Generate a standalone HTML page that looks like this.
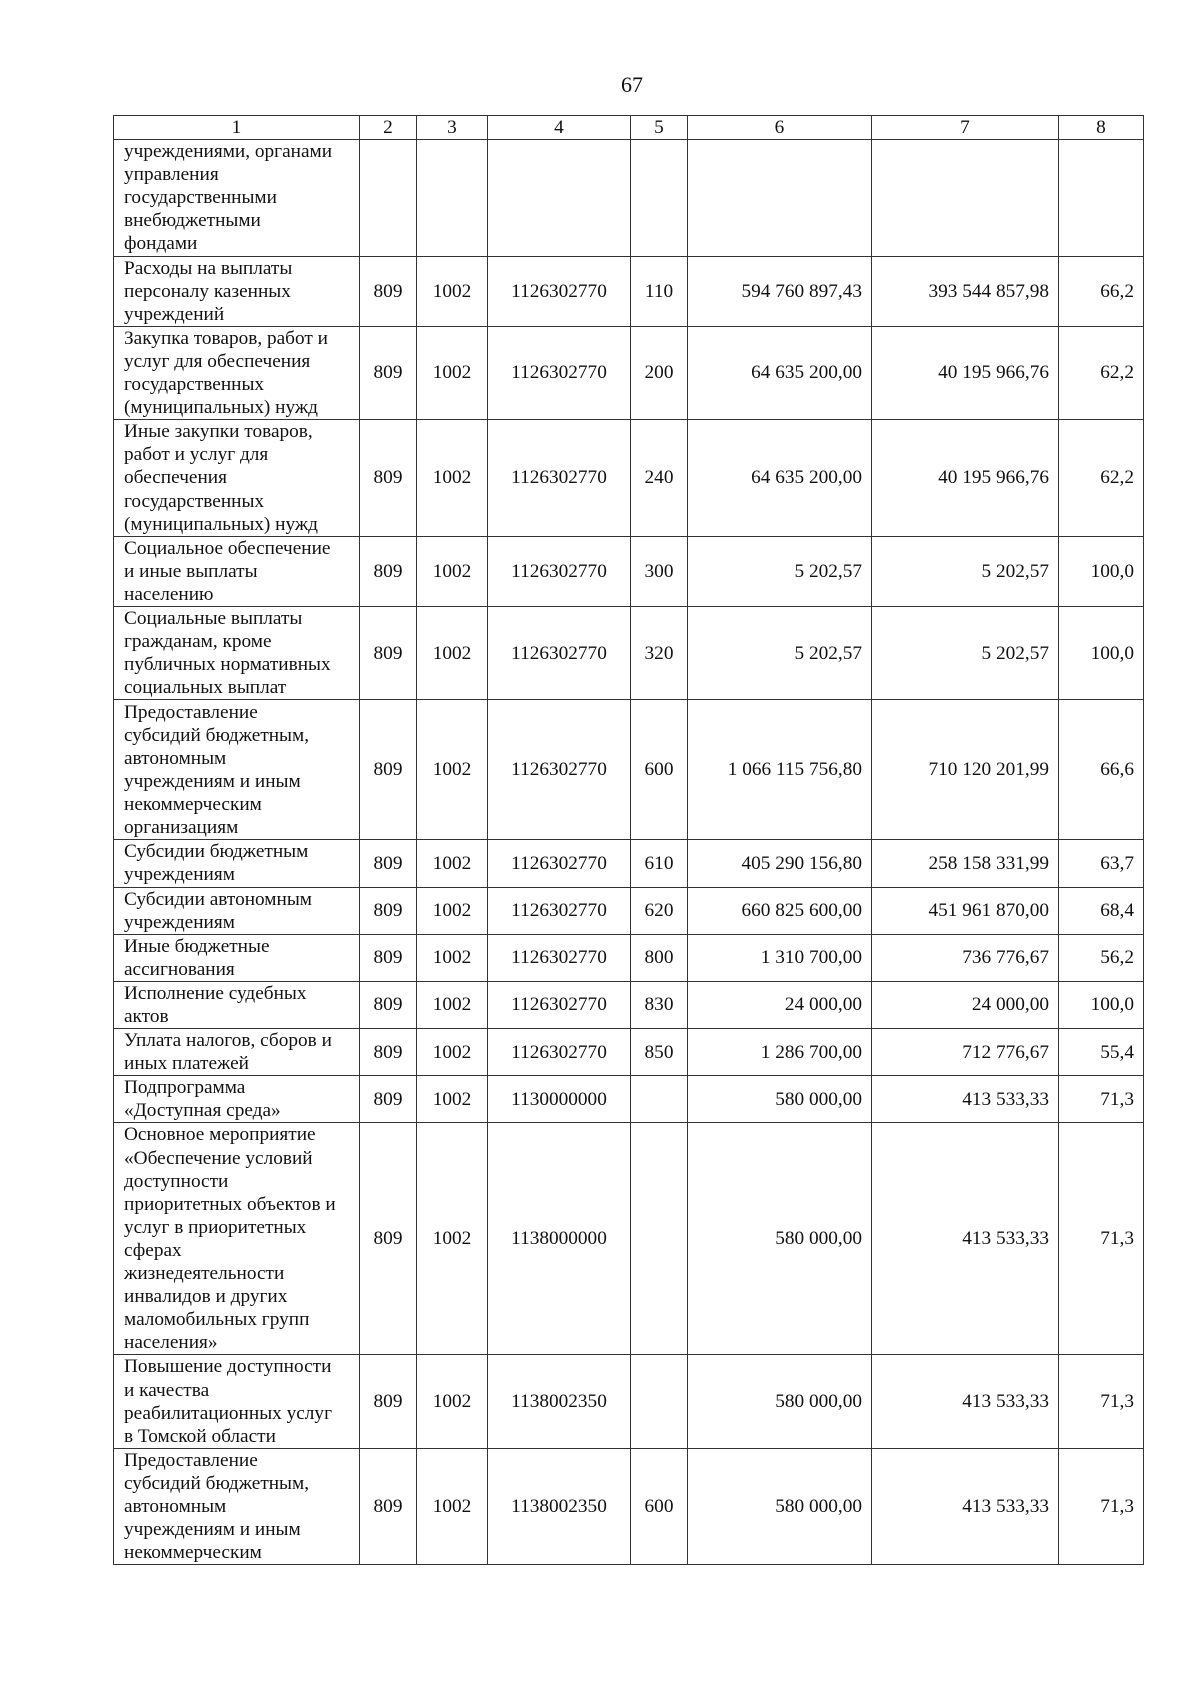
<!DOCTYPE html>
<html><head><meta charset="utf-8"><style>
body{margin:0;width:1200px;height:1698px;background:#fff;font-family:"Liberation Serif",serif;color:#111;position:relative}
.pn{position:absolute;top:72px;left:0;width:1264px;text-align:center;font-size:22px}
table{position:absolute;left:113px;top:115px;width:1030px;border-collapse:collapse;table-layout:fixed;font-size:19.3px;line-height:23.1px}
td{border:1.3px solid #333;padding:0 9px;vertical-align:middle;text-align:center;white-space:nowrap;overflow:hidden}
td.t{text-align:left;padding-left:10px;padding-right:0}
td.r{text-align:right}
tr.h td{height:22px}
</style></head><body>
<div class="pn">67</div>
<table>
<colgroup><col style="width:246px"><col style="width:57px"><col style="width:71px"><col style="width:143px"><col style="width:57px"><col style="width:184px"><col style="width:187px"><col style="width:85px"></colgroup>
<tr class="h"><td>1</td><td>2</td><td>3</td><td>4</td><td>5</td><td>6</td><td>7</td><td>8</td></tr>
<tr style="height:116px"><td class="t">учреждениями, органами<br>управления<br>государственными<br>внебюджетными<br>фондами</td><td></td><td></td><td></td><td></td><td></td><td></td><td></td></tr>
<tr style="height:69px"><td class="t">Расходы на выплаты<br>персоналу казенных<br>учреждений</td><td>809</td><td>1002</td><td>1126302770</td><td>110</td><td class="r">594 760 897,43</td><td class="r">393 544 857,98</td><td class="r">66,2</td></tr>
<tr style="height:93px"><td class="t">Закупка товаров, работ и<br>услуг для обеспечения<br>государственных<br>(муниципальных) нужд</td><td>809</td><td>1002</td><td>1126302770</td><td>200</td><td class="r">64 635 200,00</td><td class="r">40 195 966,76</td><td class="r">62,2</td></tr>
<tr style="height:116px"><td class="t">Иные закупки товаров,<br>работ и услуг для<br>обеспечения<br>государственных<br>(муниципальных) нужд</td><td>809</td><td>1002</td><td>1126302770</td><td>240</td><td class="r">64 635 200,00</td><td class="r">40 195 966,76</td><td class="r">62,2</td></tr>
<tr style="height:70px"><td class="t">Социальное обеспечение<br>и иные выплаты<br>населению</td><td>809</td><td>1002</td><td>1126302770</td><td>300</td><td class="r">5 202,57</td><td class="r">5 202,57</td><td class="r">100,0</td></tr>
<tr style="height:93px"><td class="t">Социальные выплаты<br>гражданам, кроме<br>публичных нормативных<br>социальных выплат</td><td>809</td><td>1002</td><td>1126302770</td><td>320</td><td class="r">5 202,57</td><td class="r">5 202,57</td><td class="r">100,0</td></tr>
<tr style="height:140px"><td class="t">Предоставление<br>субсидий бюджетным,<br>автономным<br>учреждениям и иным<br>некоммерческим<br>организациям</td><td>809</td><td>1002</td><td>1126302770</td><td>600</td><td class="r">1 066 115 756,80</td><td class="r">710 120 201,99</td><td class="r">66,6</td></tr>
<tr style="height:47px"><td class="t">Субсидии бюджетным<br>учреждениям</td><td>809</td><td>1002</td><td>1126302770</td><td>610</td><td class="r">405 290 156,80</td><td class="r">258 158 331,99</td><td class="r">63,7</td></tr>
<tr style="height:47px"><td class="t">Субсидии автономным<br>учреждениям</td><td>809</td><td>1002</td><td>1126302770</td><td>620</td><td class="r">660 825 600,00</td><td class="r">451 961 870,00</td><td class="r">68,4</td></tr>
<tr style="height:47px"><td class="t">Иные бюджетные<br>ассигнования</td><td>809</td><td>1002</td><td>1126302770</td><td>800</td><td class="r">1 310 700,00</td><td class="r">736 776,67</td><td class="r">56,2</td></tr>
<tr style="height:47px"><td class="t">Исполнение судебных<br>актов</td><td>809</td><td>1002</td><td>1126302770</td><td>830</td><td class="r">24 000,00</td><td class="r">24 000,00</td><td class="r">100,0</td></tr>
<tr style="height:47px"><td class="t">Уплата налогов, сборов и<br>иных платежей</td><td>809</td><td>1002</td><td>1126302770</td><td>850</td><td class="r">1 286 700,00</td><td class="r">712 776,67</td><td class="r">55,4</td></tr>
<tr style="height:47px"><td class="t">Подпрограмма<br>«Доступная среда»</td><td>809</td><td>1002</td><td>1130000000</td><td></td><td class="r">580 000,00</td><td class="r">413 533,33</td><td class="r">71,3</td></tr>
<tr style="height:231px"><td class="t">Основное мероприятие<br>«Обеспечение условий<br>доступности<br>приоритетных объектов и<br>услуг в приоритетных<br>сферах<br>жизнедеятельности<br>инвалидов и других<br>маломобильных групп<br>населения»</td><td>809</td><td>1002</td><td>1138000000</td><td></td><td class="r">580 000,00</td><td class="r">413 533,33</td><td class="r">71,3</td></tr>
<tr style="height:93px"><td class="t">Повышение доступности<br>и качества<br>реабилитационных услуг<br>в Томской области</td><td>809</td><td>1002</td><td>1138002350</td><td></td><td class="r">580 000,00</td><td class="r">413 533,33</td><td class="r">71,3</td></tr>
<tr style="height:116px"><td class="t">Предоставление<br>субсидий бюджетным,<br>автономным<br>учреждениям и иным<br>некоммерческим</td><td>809</td><td>1002</td><td>1138002350</td><td>600</td><td class="r">580 000,00</td><td class="r">413 533,33</td><td class="r">71,3</td></tr>
</table>
</body></html>
